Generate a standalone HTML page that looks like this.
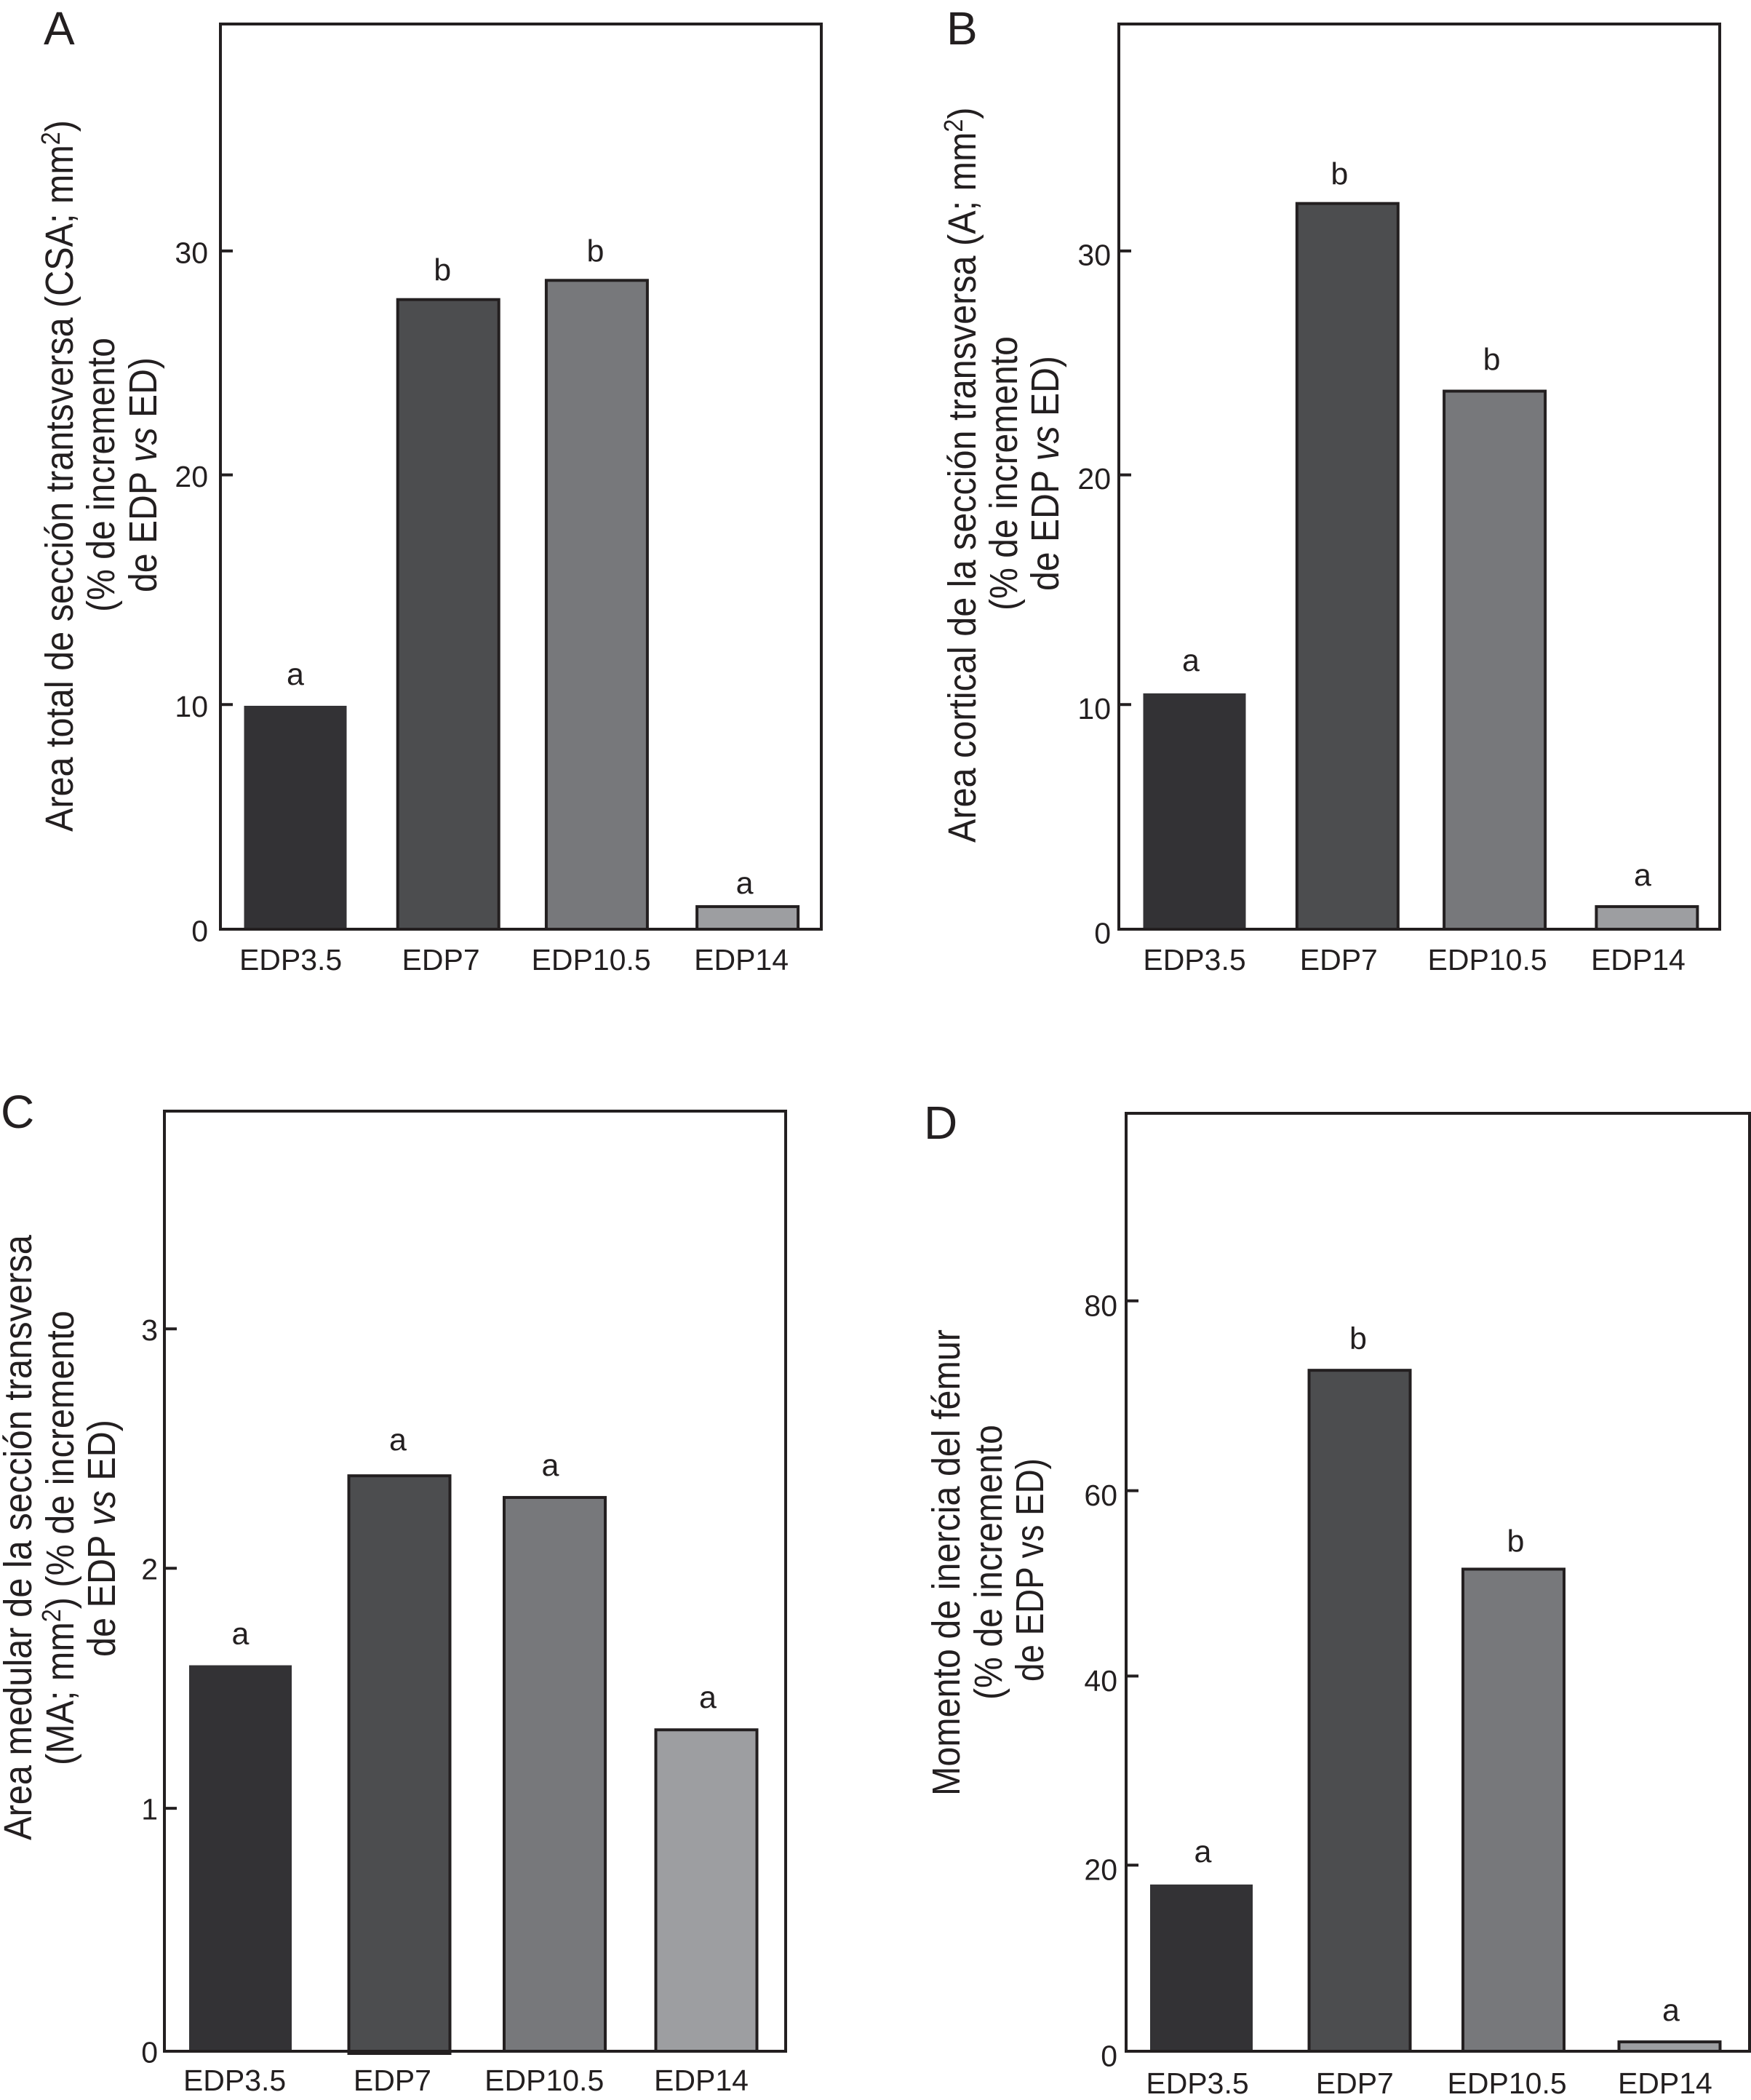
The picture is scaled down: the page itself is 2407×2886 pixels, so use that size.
<!DOCTYPE html>
<html lang="es">
<head>
<meta charset="utf-8">
<title>Incremento de EDP vs ED</title>
<style>
html,body{margin:0;padding:0;background:#fff;width:2407px;height:2886px;overflow:hidden}
svg{display:block}
text{font-family:"Liberation Sans",sans-serif;fill:#231f20}
.title-line{font-size:54px}
.sup{font-size:36px}
.vs{font-style:italic}
</style>
</head>
<body>
<svg id="figure" xmlns="http://www.w3.org/2000/svg" width="2407" height="2886" viewBox="0 0 2407 2886">
  <rect width="2407" height="2886" fill="#fff"/>

  <g>
    <text class="title-line" data-base="100" data-from="1143" data-to="165">Area total de sección trantsversa (CSA; mm<tspan class="sup" dy="-18">2</tspan><tspan dy="18">)</tspan></text>
    <text class="title-line" data-base="157" data-from="841" data-to="464">(% de incremento</text>
    <text class="title-line" data-base="215" data-from="814" data-to="491">de EDP <tspan class="vs">vs</tspan> ED)</text>
  </g>
  <g>
    <text class="title-line" data-base="1341" data-from="1158" data-to="147">Area cortical de la sección transversa (A; mm<tspan class="sup" dy="-18">2</tspan><tspan dy="18">)</tspan></text>
    <text class="title-line" data-base="1398" data-from="839" data-to="462">(% de incremento</text>
    <text class="title-line" data-base="1455" data-from="812" data-to="489">de EDP <tspan class="vs">vs</tspan> ED)</text>
  </g>
  <g>
    <text class="title-line" data-base="43" data-from="2529" data-to="1697">Area medular de la sección transversa</text>
    <text class="title-line" data-base="101" data-from="2426" data-to="1801">(MA; mm<tspan class="sup" dy="-18">2</tspan><tspan dy="18">) (% de incremento</tspan></text>
    <text class="title-line" data-base="158" data-from="2277" data-to="1951">de EDP <tspan class="vs">vs</tspan> ED)</text>
  </g>
  <g>
    <text class="title-line" data-base="1319" data-from="2468" data-to="1827">Momento de inercia del fémur</text>
    <text class="title-line" data-base="1377" data-from="2336" data-to="1958">(% de incremento</text>
    <text class="title-line" data-base="1434" data-from="2311" data-to="2004">de EDP vs ED)</text>
  </g>
</svg>

<script>
// ---- chart data ----
const categories = ['EDP3.5', 'EDP7', 'EDP10.5', 'EDP14'];
const valuesA = [9.85, 27.85, 28.7, 1.0];
const valuesB = [10.4, 32.1, 23.8, 1.0];
const valuesC = [1.6, 2.39, 2.3, 1.335];
const valuesD = [17.7, 72.6, 51.4, 1.0];
const lettersA = ['a', 'b', 'b', 'a'];
const lettersB = ['a', 'b', 'b', 'a'];
const lettersC = ['a', 'a', 'a', 'a'];
const lettersD = ['a', 'b', 'b', 'a'];
const ticksA = [0, 10, 20, 30];
const ticksB = [0, 10, 20, 30];
const ticksC = [0, 1, 2, 3];
const ticksD = [0, 20, 40, 60, 80];

// ---- layout (no data values here) ----
const fills = ['#333235', '#4c4d4f', '#77787b', '#9d9ea1'];
const INK = '#231f20';
const SVGNS = 'http://www.w3.org/2000/svg';
const panels = [
  {id:'a', label:'A', labelX:60, labelY:61, left:303, right:1129, top:33, bottom:1277, unit:31.07,
   barStart:406, barStep:207.2, barDx:[0,3,0,0], catStart:399.6, catStep:206.5, catDx:[0,0,0,0], catY:1333, tickDy:2, tickGap:17,
   tickNudge:[0,2,-3,0],
   values:valuesA, letters:lettersA, ticks:ticksA, letterDx:[0,-5,-2,-4], letterGap:[30,26,26,18], drop:[0,0,0,0]},
  {id:'b', label:'B', labelX:1301, labelY:61, left:1538, right:2364, top:33, bottom:1277, unit:31.07,
   barStart:1642, barStep:207.3, barDx:[0,3,-2,0], catStart:1642, catStep:203.3, catDx:[0,-5,-4,0], catY:1333, tickDy:5, tickGap:11,
   tickNudge:[0,2,-3,0],
   values:valuesB, letters:lettersB, ticks:ticksB, letterDx:[-5,-8,-6,-6], letterGap:[32,26,29,29], drop:[0,0,0,0]},
  {id:'c', label:'C', labelX:1, labelY:1550, left:226, right:1080, top:1527, bottom:2819, unit:330.9,
   barStart:330.5, barStep:213.5, barDx:[0,5,5,0], catStart:322.6, catStep:213.8, catDx:[0,3,-2,0], catY:2873, tickDy:1, tickGap:9,
   tickNudge:[0,-3,-2,0],
   values:valuesC, letters:lettersC, ticks:ticksC, letterDx:[0,3,-1,2], letterGap:[30,35,30,30], drop:[0,3,0,0]},
  {id:'d', label:'D', labelX:1270, labelY:1565, left:1548, right:2405, top:1530, bottom:2819, unit:12.89,
   barStart:1651.5, barStep:214.5, barDx:[0,3,0,0], catStart:1646, catStep:214.3, catDx:[0,2,-3,0], catY:2877, tickDy:6, tickGap:12,
   tickNudge:[0,2,0,3,0],
   values:valuesD, letters:lettersD, ticks:ticksD, letterDx:[2,1,3,2], letterGap:[32,29,24,29], drop:[0,0,0,0]}
];
const BAR_WIDTH = 139;
const BAR_STROKE = 4;
const TICK_LEN = 17;
const figure = document.getElementById('figure');

function mk(tag, attrs, parent, text) {
  const el = document.createElementNS(SVGNS, tag);
  for (const k in attrs) el.setAttribute(k, attrs[k]);
  if (text !== undefined) el.textContent = text;
  parent.appendChild(el);
  return el;
}
// axis functions
function yScale(p, v) { return p.bottom - v * p.unit; }
function xBar(p, i) { return p.barStart + i * p.barStep; }
function xCat(p, i) { return p.catStart + i * p.catStep + p.catDx[i]; }

panels.forEach(function (p) {
  const g = mk('g', {}, figure);
  
  

  const panelLabel = mk('text', {x:p.labelX, y:p.labelY, 'font-size':64}, g, p.label);
  
  

  p.values.forEach(function (v, i) {
    const top = yScale(p, v);
    const cx = xBar(p, i);
    const bar = mk('rect', {
      x: cx + p.barDx[i] - BAR_WIDTH / 2, y: top, width: BAR_WIDTH,
      height: Math.max(0, p.bottom + p.drop[i] - top),
      fill: fills[i], stroke: i === 0 ? fills[0] : INK,
      'stroke-width': i === 0 ? 2 : BAR_STROKE
    }, g);
    
    

    const letter = mk('text', {
      x: cx + p.letterDx[i], y: yScale(p, v) - p.letterGap[i],
      'font-size': 43, 'text-anchor': 'middle'
    }, g, p.letters[i]);
    
    

    const cat = mk('text', {
      x: xCat(p, i), y: p.catY, 'font-size': 41, 'text-anchor': 'middle'
    }, g, categories[i]);
    
    
  });

  const frame = mk('rect', {
    x: p.left, y: p.top, width: p.right - p.left, height: p.bottom - p.top,
    fill: 'none', stroke: INK, 'stroke-width': 4
  }, g);
  
  

  p.ticks.forEach(function (t, k) {
    const y = yScale(p, t) + p.tickNudge[k];
    if (t !== 0) {
      const tick = mk('line', {
        x1: p.left, x2: p.left + TICK_LEN, y1: y, y2: y,
        stroke: INK, 'stroke-width': 4
      }, g);
      
      
    }
    const lab = mk('text', {
      x: p.left - p.tickGap, y: y + p.tickDy + 14.5, 'font-size': 41, 'text-anchor': 'end'
    }, g, String(t));
    
    
  });
});

// Axis titles are condensed along their length, as in the reference.
document.querySelectorAll('.title-line').forEach(function (t) {
  const base = +t.getAttribute('data-base');
  const from = +t.getAttribute('data-from');
  const to = +t.getAttribute('data-to');
  const scale = (from - to) / t.getComputedTextLength();
  t.setAttribute('transform', 'translate(' + base + ' ' + from + ') rotate(-90) scale(' + scale.toFixed(4) + ' 1)');
});
</script>
</body>
</html>
